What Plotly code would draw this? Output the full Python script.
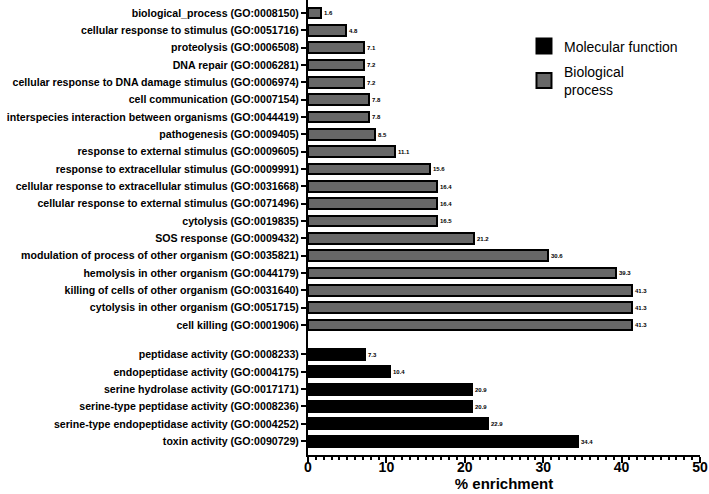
import plotly.graph_objects as go

mf_labels = [
    "toxin activity (GO:0090729)",
    "serine-type endopeptidase activity (GO:0004252)",
    "serine-type peptidase activity (GO:0008236)",
    "serine hydrolase activity (GO:0017171)",
    "endopeptidase activity (GO:0004175)",
    "peptidase activity (GO:0008233)",
]
mf_values = [34.4, 22.9, 20.9, 20.9, 10.4, 7.3]

bp_labels = [
    "cell killing (GO:0001906)",
    "cytolysis in other organism (GO:0051715)",
    "killing of cells of other organism (GO:0031640)",
    "hemolysis in other organism (GO:0044179)",
    "modulation of process of other organism (GO:0035821)",
    "SOS response (GO:0009432)",
    "cytolysis (GO:0019835)",
    "cellular response to external stimulus (GO:0071496)",
    "cellular response to extracellular stimulus (GO:0031668)",
    "response to extracellular stimulus (GO:0009991)",
    "response to external stimulus (GO:0009605)",
    "pathogenesis (GO:0009405)",
    "interspecies interaction between organisms (GO:0044419)",
    "cell communication (GO:0007154)",
    "cellular response to DNA damage stimulus (GO:0006974)",
    "DNA repair (GO:0006281)",
    "proteolysis (GO:0006508)",
    "cellular response to stimulus (GO:0051716)",
    "biological_process (GO:0008150)",
]
bp_values = [41.3, 41.3, 41.3, 39.3, 30.6, 21.2, 16.5, 16.4, 16.4, 15.6,
             11.1, 8.5, 7.8, 7.8, 7.2, 7.2, 7.1, 4.8, 1.6]

x_ticks = [0, 10, 20, 30, 40, 50]

GAP = 1.7
mf_pos = list(range(len(mf_values)))
bp_pos = [len(mf_values) - 1 + GAP + i for i in range(len(bp_values))]

font = "Liberation Sans, Arial, sans-serif"
val_font = dict(family=font, size=6, color="black")

fig = go.Figure()
fig.add_trace(go.Bar(
    x=mf_values, y=mf_pos, orientation="h", width=0.62,
    marker=dict(color="black", line=dict(color="black", width=2)),
    text=[f"<b>{v}</b>" for v in mf_values], textposition="outside",
    textfont=val_font, cliponaxis=False, showlegend=False,
))
fig.add_trace(go.Bar(
    x=bp_values, y=bp_pos, orientation="h", width=0.62,
    marker=dict(color="#676767", line=dict(color="black", width=2)),
    text=[f"<b>{v}</b>" for v in bp_values], textposition="outside",
    textfont=val_font, cliponaxis=False, showlegend=False,
))
fig.add_trace(go.Scatter(
    x=[None], y=[None], mode="markers", name="Molecular function", legendgroup="mf",
    marker=dict(symbol="square", size=15, color="black", line=dict(color="black", width=2)),
))
fig.add_trace(go.Scatter(
    x=[None], y=[None], mode="markers", name="Biological<br>process", legendgroup="bp",
    marker=dict(symbol="square", size=15, color="#676767", line=dict(color="black", width=2)),
))

fig.update_layout(
    width=709, height=494,
    margin=dict(l=308, r=9, t=0, b=39, autoexpand=False),
    plot_bgcolor="white", paper_bgcolor="white",
    font=dict(family=font, color="black"),
    bargap=0,
    legend=dict(x=0.551, y=0.933, xanchor="left", yanchor="top",
                font=dict(family=font, size=14, color="black"),
                bgcolor="rgba(0,0,0,0)", tracegroupgap=4),
    xaxis=dict(
        range=[0, 50], tickvals=x_ticks, ticktext=[f"<b>{t}</b>" for t in x_ticks],
        showgrid=False, zeroline=False, showline=True, linecolor="black", linewidth=2,
        ticks="outside", ticklen=6, tickwidth=2, tickcolor="black",
        tickfont=dict(family=font, size=14, color="black"),
        ticklabelstandoff=-8, automargin=False,
        minor=dict(dtick=1, ticks="outside", ticklen=3, tickwidth=1.5, tickcolor="black"),
        title=dict(text="<b>% enrichment</b>", font=dict(family=font, size=15, color="black"), standoff=3),
    ),
    yaxis=dict(
        range=[-0.8, bp_pos[-1] + 0.75],
        tickvals=mf_pos + bp_pos,
        ticktext=[f"<b>{t}</b>" for t in mf_labels + bp_labels],
        showgrid=False, zeroline=False, showline=True, linecolor="black", linewidth=2,
        ticks="outside", ticklen=5, tickwidth=2, tickcolor="black",
        tickfont=dict(family=font, size=10.6, color="black"),
        automargin=False,
    ),
)

fig.write_html("out.html", config={"displayModeBar": False},
               post_script="document.body.style.margin='0';")
